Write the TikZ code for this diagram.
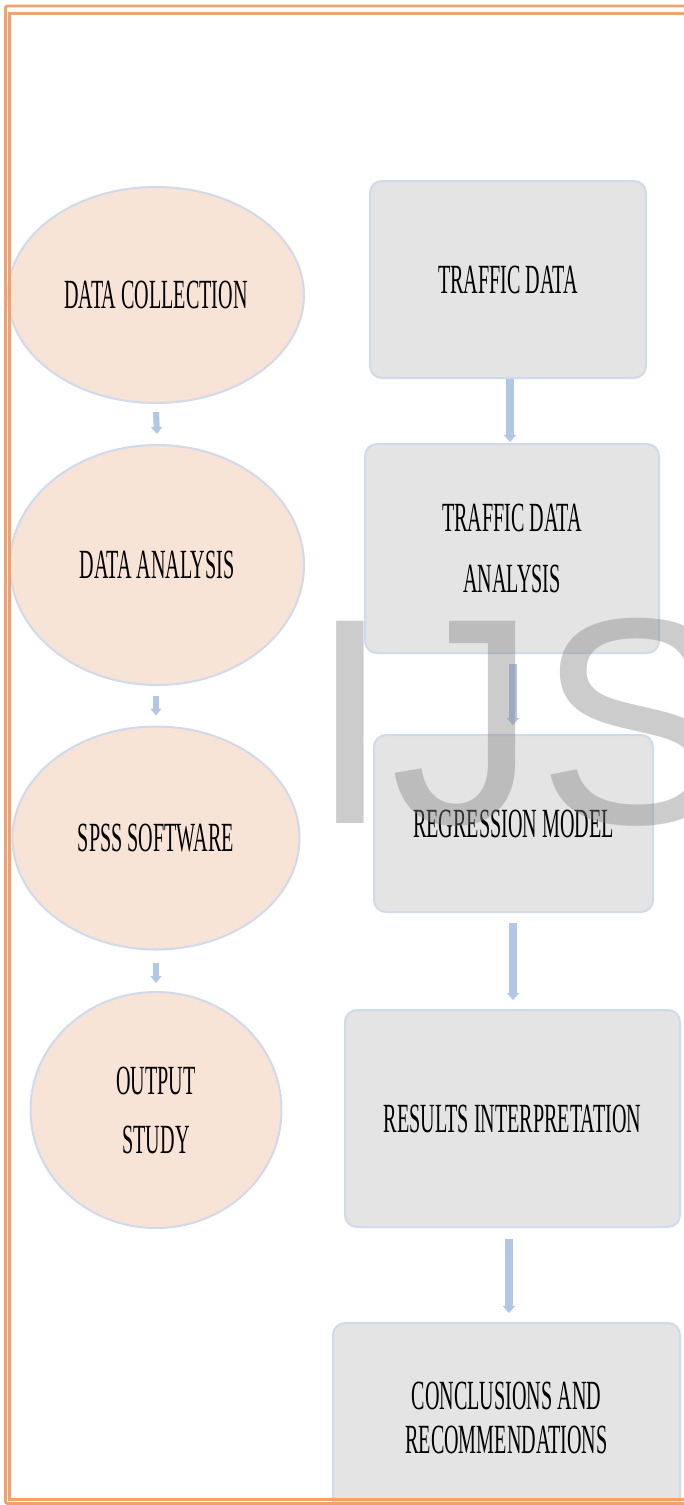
\documentclass[tikz,border=0pt]{standalone}
\usepackage{fontspec}
\setmainfont{Liberation Serif}
\newfontfamily\tnr[FakeStretch=0.485]{Liberation Serif}
\newfontfamily\wmfont{Liberation Sans}
\usetikzlibrary{shapes.geometric,arrows.meta,calc}
\definecolor{peach}{HTML}{F8E4D7}
\definecolor{boxgray}{HTML}{E4E4E4}
\definecolor{edgeblue}{HTML}{D0DAEB}
\definecolor{arrblue}{HTML}{B2C6E6}
\definecolor{frameorange}{HTML}{F0A26C}
\tikzset{
  oval/.style={ellipse, draw=edgeblue, line width=2pt, fill=peach, inner sep=0pt,
    font=\tnr\fontsize{41.5}{59}\selectfont, align=center},
  rbox/.style={rectangle, rounded corners=12pt, draw=edgeblue, line width=2pt, fill=boxgray, inner sep=0pt,
    font=\tnr\fontsize{41.5}{61}\selectfont, align=center},
  smallarr/.style={arrblue, line width=6pt, -{Triangle[width=11pt,length=7pt]}},
  bigarr/.style={arrblue, line width=7.5pt, -{Triangle[width=12pt,length=7pt]}},
}
\begin{document}
\begin{tikzpicture}[x=1pt,y=-1pt]
\useasboundingbox (0,0) rectangle (683,1505);
\fill[white] (0,0) rectangle (683,1505);
% left ellipses
\node[oval, minimum width=296pt, minimum height=216pt] (e1) at (156,295) {DATA COLLECTION};
\node[oval, minimum width=294pt, minimum height=240pt] (e2) at (157,565) {DATA ANALYSIS};
\node[oval, minimum width=287pt, minimum height=223pt] (e3) at (156,838) {SPSS SOFTWARE};
\node[oval, minimum width=251pt, minimum height=236pt] (e4) at (156,1110) {OUTPUT\\STUDY};
% right boxes
\node[rbox, minimum width=276pt, minimum height=197pt] (r1) at (508,279.5) {TRAFFIC DATA};
\node[rbox, minimum width=294pt, minimum height=209pt] (r2) at (512,548.5) {TRAFFIC DATA\\ANALYSIS};
\node[rbox, minimum width=279pt, minimum height=177pt] (r3) at (513.5,823.5) {REGRESSION MODEL};
\node[rbox, minimum width=335pt, minimum height=217pt] (r4) at (512.5,1118.5) {RESULTS INTERPRETATION};
\node[rbox, minimum width=347pt, minimum height=190pt, font=\tnr\fontsize{41.5}{44}\selectfont] (r5) at (506.5,1418) {CONCLUSIONS AND\\RECOMMENDATIONS};
% small arrows
\draw[smallarr] ($(e1.south)+(0,8)$) -- ($(e2.north)+(0,-10)$);
\draw[smallarr] ($(e2.south)+(-1,10)$) -- ($(e3.north)+(0,-10)$);
\draw[smallarr] ($(e3.south)+(0,12)$) -- ($(e4.north)+(0,-8)$);
% big arrows
\draw[bigarr] ($(r1.south)+(2,0)$) -- ($(r2.north)+(-2,-1)$);
\draw[bigarr] ($(r2.south)+(1,10)$) -- ($(r3.north)+(-0.5,-9)$);
\draw[bigarr] ($(r3.south)+(-0.5,10)$) -- ($(r4.north)+(0.5,-9)$);
\draw[bigarr] ($(r4.south)+(-3.5,11)$) -- ($(r5.north)+(2.5,-9)$);
% watermark
\node[anchor=base west, inner sep=0pt, text=black!50, opacity=0.4, font=\wmfont\fontsize{294}{294}\selectfont] (wm) at (309,823) {IJS};
% frame
\draw[frameorange, line width=2.8pt, rounded corners=2pt] (720,6) -- (5.5,6) -- (5.5,1503.5) -- (720,1503.5);
\draw[frameorange, line width=2.4pt] (720,13.5) -- (9.5,13.5) -- (9.5,1499.5) -- (720,1499.5);
\end{tikzpicture}
\end{document}
